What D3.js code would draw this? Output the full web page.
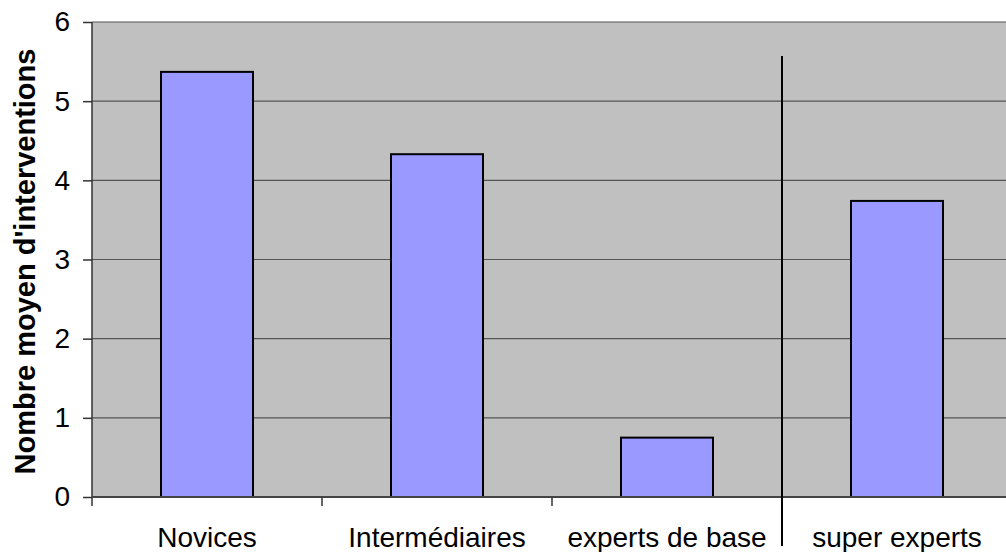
<!DOCTYPE html>
<html>
<head>
<meta charset="utf-8">
<script src="https://cdn.jsdelivr.net/npm/d3@7"></script>
<style>
  body { margin: 0; background: #fff; }
  svg { font-family: "Liberation Sans", Arial, sans-serif; }
</style>
</head>
<body>
<div id="main"></div>
<script>
const categories = ["Novices", "Intermédiaires", "experts de base", "super experts"];
const values = [5.37, 4.33, 0.75, 3.74];
const yTicks = [0, 1, 2, 3, 4, 5, 6];

const margin = {top: 22, right: -6, bottom: 55, left: 92};
const W = 1006, H = 552;
const width = W - margin.left - margin.right;   // 4 bands of 230
const height = H - margin.top - margin.bottom;

const xScale = d3.scaleBand()
    .domain(categories)
    .range([0, width])
    .paddingInner(0)
    .paddingOuter(0);

const yScale = d3.scaleLinear()
    .domain([0, 6])
    .range([height, 0]);

const svg = d3.select("#main")
    .append("svg")
    .attr("width", W)
    .attr("height", H);

const g = svg.append("g")
    .attr("transform", "translate(" + margin.left + "," + margin.top + ")");

// plot background
g.append("rect")
    .attr("x", 0).attr("y", 0)
    .attr("width", width).attr("height", height)
    .style("fill", "#c0c0c0");

// gridlines
g.selectAll("line.grid")
    .data(yTicks.filter(d => d > 0))
    .enter()
    .append("line")
    .attr("class", "grid")
    .attr("x1", 0).attr("x2", width)
    .attr("y1", d => yScale(d)).attr("y2", d => yScale(d))
    .style("stroke", "#555")
    .style("stroke-width", 1.2);

// bars
const barW = xScale.bandwidth() * 0.4;
g.selectAll("rect.bar")
    .data(values)
    .enter()
    .append("rect")
    .attr("class", "bar")
    .attr("x", (d, i) => xScale(categories[i]) + (xScale.bandwidth() - barW) / 2)
    .attr("y", d => yScale(d))
    .attr("width", barW)
    .attr("height", d => height - yScale(d))
    .style("fill", "#9999ff")
    .style("stroke", "#000")
    .style("stroke-width", 2);

// y axis
const yAxis = d3.axisLeft(yScale)
    .tickValues(yTicks)
    .tickSize(9)
    .tickPadding(13)
    .tickFormat(d3.format("d"));

const ya = g.append("g").call(yAxis);
ya.select(".domain").style("stroke", "#333").style("stroke-width", 1.5)
  .attr("d", "M0,0V" + (height + 9));
ya.selectAll(".tick line").style("stroke", "#333").style("stroke-width", 1.5);
ya.selectAll(".tick text")
    .style("font-size", "28px")
    .style("font-family", "Liberation Sans, Arial, sans-serif")
    .style("fill", "#000");

// x axis
const xAxis = d3.axisBottom(xScale)
    .tickSize(0)
    .tickPadding(30);
const xa = g.append("g")
    .attr("transform", "translate(0," + height + ")")
    .call(xAxis);
xa.select(".domain").style("stroke", "#444").style("stroke-width", 2)
  .attr("d", "M0,0H" + width);
xa.selectAll(".tick text")
    .style("font-size", "28px")
    .style("font-family", "Liberation Sans, Arial, sans-serif")
    .style("fill", "#000");

// category separator ticks
g.selectAll("line.sep")
    .data(categories.slice(1, 3))
    .enter()
    .append("line")
    .attr("class", "sep")
    .attr("x1", d => xScale(d)).attr("x2", d => xScale(d))
    .attr("y1", height).attr("y2", height + 9)
    .style("stroke", "#333")
    .style("stroke-width", 1.5);

// divider before super experts
const divX = xScale(categories[3]);
g.append("line")
    .attr("x1", divX).attr("x2", divX)
    .attr("y1", yScale(5.57)).attr("y2", height + 49)
    .style("stroke", "#000")
    .style("stroke-width", 2);

// y title
svg.append("text")
    .attr("transform", "translate(35," + (margin.top + height / 2 + 2) + ") rotate(-90)")
    .attr("text-anchor", "middle")
    .style("font-size", "29px")
    .style("font-weight", "bold")
    .text("Nombre moyen d'interventions");
</script>
</body>
</html>
